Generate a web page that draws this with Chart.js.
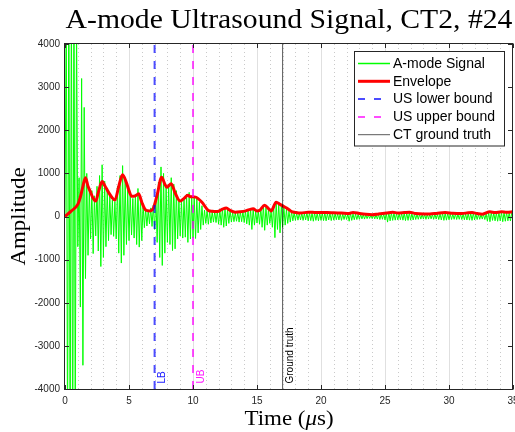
<!DOCTYPE html>
<html>
<head>
<meta charset="utf-8">
<script src="https://cdn.jsdelivr.net/npm/chart.js@4.4.1/dist/chart.umd.min.js"></script>
<style>
  html, body { margin: 0; padding: 0; background: #fff; overflow: hidden; }
  #wrap { width: 515px; height: 432px; }
</style>
</head>
<body>
<div id="wrap"><canvas id="c" width="515" height="432"></canvas></div>
<script>
// ---- data ------------------------------------------------------------
const chartTitle = 'A-mode Ultrasound Signal, CT2, #24';
const timeTicks = [0, 5, 10, 15, 20, 25, 30, 35];
const ampTicks = [-4000, -3000, -2000, -1000, 0, 1000, 2000, 3000, 4000];

// raw RF samples, one every 0.1 µs starting at t = 0
const sampleStep = 0.1;
const signalAmp = [
  0, 5200, -5600, 6100, -5900, 5400, -6200, 5800, -5000, 4600,
  -700, 900, -2100, 3200, -3450, 2530, -1440, 1000, -900, 650,
  -520, 600, -860, 480, -450, 700, -800, 950, -1160, 1200,
  -950, 820, -700, 650, -560, 500, -420, 380, -460, 350,
  -520, 700, -850, 950, -1080, 1180, -900, 850, -650, 620,
  -560, 480, -430, 420, -500, 520, -650, 650, -710, 400,
  -560, 300, -260, 180, -220, 150, -170, 200, -230, 260,
  -300, 450, -600, 800, -950, 1150, -1135, 1000, -850, 700,
  -600, 750, -650, 900, -790, 750, -750, 600, -520, 400,
  -450, 380, -500, 430, -480, 520, -600, 560, -520, 480,
  -500, 470, -510, 420, -380, 330, -300, 250, -200, 150,
  -160, 140, -180, 120, -150, 110, -130, 120, -140, 130,
  -180, 160, -200, 190, -250, 200, -220, 170, -160, 140,
  -130, 100, -120, 90, -110, 100, -130, 110, -120, 120,
  -140, 130, -170, 150, -200, 170, -300, 180, -200, 130,
  -150, 130, -180, 200, -250, 260, -320, 220, -200, 180,
  -160, 140, -250, 280, -490, 330, -300, 300, -380, 260,
  -250, 220, -200, 170, -160, 130, -130, 110, -100, 90,
  -90, 80, -85, 70, -80, 75, -90, 70, -80, 90,
  -100, 90, -95, 80, -110, 85, -90, 75, -100, 80,
  -90, 80, -95, 85, -100, 70, -80, 75, -95, 70,
  -85, 70, -75, 65, -80, 70, -90, 60, -70, 55,
  -70, 60, -110, 85, -90, 60, -75, 55, -70, 50,
  -65, 50, -55, 45, -60, 40, -50, 35, -45, 30,
  -50, 35, -55, 40, -60, 50, -70, 55, -65, 60,
  -80, 70, -130, 90, -100, 85, -90, 80, -85, 70,
  -80, 65, -75, 70, -85, 80, -95, 85, -90, 90,
  -85, 70, -80, 60, -70, 55, -65, 50, -60, 50,
  -60, 50, -65, 55, -60, 50, -55, 50, -65, 55,
  -60, 55, -70, 60, -80, 70, -90, 80, -85, 70,
  -75, 60, -70, 55, -65, 60, -70, 55, -65, 60,
  -70, 55, -75, 60, -80, 70, -85, 75, -90, 80,
  -80, 60, -70, 50, -65, 45, -60, 50, -70, 60,
  -110, 90, -120, 100, -90, 80, -100, 85, -110, 95,
  -100, 90, -120, 100, -110, 95, -100, 90, -105, 100,
  -90
];

// signal envelope (µs, amplitude)
const envTime = [
  0, 0.5, 1.0, 1.2, 1.4, 1.6, 1.8, 2.0, 2.2, 2.4,
  2.6, 2.9, 3.1, 3.4, 3.7, 3.9, 4.2, 4.5, 4.8, 5.0,
  5.2, 5.5, 5.75, 6.0, 6.3, 6.6, 6.9, 7.2, 7.55, 7.8,
  7.95, 8.3, 8.6, 9.0, 9.3, 9.6, 9.8, 10.2, 10.7, 11.2,
  11.5, 11.9, 12.3, 12.6, 12.9, 13.3, 13.7, 14.1, 14.4, 14.7,
  15.0, 15.2, 15.6, 15.9, 16.1, 16.5, 16.8, 17.1, 17.4, 17.7,
  18.0, 18.4, 19.0, 19.5, 20.0, 20.5, 21.0, 21.6, 22.2, 22.5,
  23.0, 23.5, 24.0, 24.5, 25.1, 25.6, 26.0, 26.5, 26.9, 27.4,
  28.0, 28.5, 29.0, 29.7, 30.3, 31.0, 31.5, 31.8, 32.2, 32.6,
  33.2, 33.6, 34.1, 34.5, 35.0
];
const envAmp = [
  0, 130, 280, 450, 700, 900, 700, 560, 420, 360,
  560, 810, 720, 560, 430, 380, 700, 970, 780, 600,
  470, 480, 530, 330, 150, 130, 190, 500, 910, 750,
  680, 760, 550, 360, 420, 490, 460, 450, 330, 140,
  120, 115, 170, 195, 140, 100, 110, 130, 160, 180,
  130, 140, 260, 180, 130, 330, 280, 230, 180, 115,
  95, 80, 100, 95, 90, 95, 85, 80, 70, 95,
  70, 50, 40, 60, 80, 100, 80, 90, 100, 70,
  60, 60, 70, 90, 75, 70, 85, 90, 70, 55,
  110, 90, 110, 100, 110
];

// depth markers (µs)
const lowerBound = 7.0;
const upperBound = 10.0;
const ctGroundTruth = 17.0;
const markerTags = ['LB', 'UB', 'Ground truth'];
const ampRange = [-4000, 4000];
const timeRange = [0, 35];

// ---- datasets ----------------------------------------------------------
const signalPts = signalAmp.map((a, i) => ({ x: Math.round(i * sampleStep * 10) / 10, y: a }));
const envPts = envTime.map((t, i) => ({ x: t, y: envAmp[i] }));
const vline = t => [{ x: t, y: ampRange[0] }, { x: t, y: ampRange[1] }];

const AXIS = '#262626';
const sans = '"Liberation Sans", Arial, sans-serif';
const serif = '"Liberation Serif", "Times New Roman", serif';

const styles = [
  { label: 'A-mode Signal', color: '#00ff00', width: 1, dash: [] },
  { label: 'Envelope', color: '#ff0000', width: 3, dash: [] },
  { label: 'US lower bound', color: 'rgba(0,0,255,0.7)', width: 2, dash: [8, 8] },
  { label: 'US upper bound', color: 'rgba(255,0,255,0.7)', width: 2, dash: [8, 8] },
  { label: 'CT ground truth', color: 'rgba(0,0,0,0.65)', width: 1, dash: [] }
];
const seriesData = [signalPts, envPts, vline(lowerBound), vline(upperBound), vline(ctGroundTruth)];

const datasets = styles.map((s, i) => ({
  label: s.label,
  data: seriesData[i],
  borderColor: s.color,
  borderWidth: s.width,
  borderDash: s.dash,
  pointRadius: 0,
  fill: false,
  order: 5 - i,
  cubicInterpolationMode: i === 1 ? 'monotone' : 'default'
}));

// ---- drawing helpers ---------------------------------------------------
// serif text, slightly widened to the proportions of Computer Modern
function serifText(ctx, text, x, y, size, rot) {
  ctx.save();
  ctx.translate(x, y);
  if (rot) ctx.rotate(rot);
  ctx.scale(1.12, 1);
  ctx.font = size + 'px ' + serif;
  ctx.textAlign = 'center';
  ctx.textBaseline = 'alphabetic';
  ctx.fillStyle = '#000';
  ctx.fillText(text, 0, 0);
  ctx.restore();
}

const decor = {
  id: 'decor',
  beforeDatasetsDraw(chart) {
    const { ctx, chartArea: a, scales: { x } } = chart;
    ctx.save();
    ctx.lineWidth = 1;
    for (let t = timeRange[0] + 1; t < timeRange[1]; t++) {
      const X = Math.round(x.getPixelForValue(t)) + 0.5;
      ctx.beginPath();
      if (t % 5 === 0) {
        ctx.setLineDash([]);
        ctx.strokeStyle = '#e0e0e0';
      } else {
        ctx.setLineDash([1, 3]);
        ctx.strokeStyle = '#c9c9c9';
      }
      ctx.moveTo(X, a.top);
      ctx.lineTo(X, a.bottom);
      ctx.stroke();
    }
    ctx.restore();
  },
  afterDatasetsDraw(chart) {
    const { ctx, chartArea: a, scales: { x, y } } = chart;
    ctx.save();
    // box
    const L = a.left - 0.5, R = a.right - 0.5, T = a.top - 0.5, B = a.bottom + 0.5;
    ctx.strokeStyle = AXIS;
    ctx.lineWidth = 1;
    ctx.setLineDash([]);
    ctx.strokeRect(L, T, R - L, B - T);
    // inward tick marks on all four sides
    const tl = 4.5;
    ctx.beginPath();
    timeTicks.forEach(v => {
      const X = Math.round(x.getPixelForValue(v)) + 0.5;
      ctx.moveTo(X, B); ctx.lineTo(X, B - tl);
      ctx.moveTo(X, T); ctx.lineTo(X, T + tl);
    });
    ampTicks.forEach(v => {
      const Y = Math.round(y.getPixelForValue(v)) + 0.5;
      ctx.moveTo(L, Y); ctx.lineTo(L + tl, Y);
      ctx.moveTo(R, Y); ctx.lineTo(R - tl, Y);
    });
    ctx.stroke();

    // marker tags, rotated, next to each vertical line
    const tags = [
      { t: lowerBound, text: markerTags[0], color: '#1a1aff' },
      { t: upperBound, text: markerTags[1], color: '#ff1aff' },
      { t: ctGroundTruth, text: markerTags[2], color: '#000' }
    ];
    ctx.font = '10px ' + sans;
    ctx.textAlign = 'left';
    ctx.textBaseline = 'middle';
    tags.forEach(g => {
      const X = x.getPixelForValue(g.t);
      ctx.save();
      ctx.translate(X + 8, a.bottom - 5.5);
      ctx.rotate(-Math.PI / 2);
      ctx.fillStyle = g.color;
      ctx.fillText(g.text, 0, 0);
      ctx.restore();
    });
    ctx.restore();
  },
  afterDraw(chart) {
    const { ctx, chartArea: a } = chart;
    const cx = (a.left + a.right) / 2;
    // title
    serifText(ctx, chartTitle, cx, 27.5, 26.5);
    // y label
    serifText(ctx, 'Amplitude', 25, (a.top + a.bottom) / 2, 20.5, -Math.PI / 2);
    // x label with italic mu
    ctx.save();
    const sz = 20.5;
    const parts = [
      { s: 'Time (', f: sz + 'px ' + serif },
      { s: '\u03bc', f: 'italic ' + sz + 'px ' + serif },
      { s: 's)', f: sz + 'px ' + serif }
    ];
    let w = 0;
    parts.forEach(p => { ctx.font = p.f; p.w = ctx.measureText(p.s).width; w += p.w; });
    ctx.translate(cx, 425);
    ctx.scale(1.12, 1);
    let pos = -w / 2;
    ctx.fillStyle = '#000';
    ctx.textBaseline = 'alphabetic';
    ctx.textAlign = 'left';
    parts.forEach(p => { ctx.font = p.f; ctx.fillText(p.s, pos, 0); pos += p.w; });
    ctx.restore();

    // legend
    ctx.save();
    const bx = 354.5, by = 51.5, bw = 150, bh = 94.5;
    ctx.fillStyle = '#fff';
    ctx.fillRect(bx, by, bw, bh);
    ctx.strokeStyle = AXIS;
    ctx.lineWidth = 1;
    ctx.setLineDash([]);
    ctx.strokeRect(bx, by, bw, bh);
    ctx.font = '14px ' + sans;
    ctx.textBaseline = 'middle';
    ctx.textAlign = 'left';
    styles.forEach((s, i) => {
      const ry = 63.5 + i * 17.8;
      ctx.beginPath();
      ctx.strokeStyle = s.color;
      ctx.lineWidth = i === 0 ? 1.5 : s.width;
      ctx.setLineDash(s.dash.length ? [7, 9] : []);
      ctx.moveTo(358, ry);
      ctx.lineTo(390, ry);
      ctx.stroke();
      ctx.fillStyle = '#000';
      ctx.fillText(s.label, 393, ry + 0.5);
    });
    ctx.restore();
  }
};

const zeroPad = s => { s.paddingLeft = 0; s.paddingRight = 0; s.paddingTop = 0; s.paddingBottom = 0; };

new Chart(document.getElementById('c'), {
  type: 'line',
  data: { datasets },
  options: {
    responsive: false,
    animation: false,
    devicePixelRatio: 1,
    normalized: true,
    layout: { padding: { top: 44, right: 2, left: 0, bottom: 0 } },
    plugins: { legend: { display: false }, tooltip: { enabled: false }, title: { display: false } },
    scales: {
      x: {
        type: 'linear', min: timeRange[0], max: timeRange[1],
        grid: { display: false, drawTicks: false }, border: { display: false },
        afterBuildTicks: s => { s.ticks = timeTicks.map(v => ({ value: v })); },
        afterFit: s => { s.height = 43; zeroPad(s); },
        ticks: { autoSkip: false, maxRotation: 0, padding: 6, color: AXIS,
                 font: { family: sans, size: 10 }, callback: v => String(v) }
      },
      y: {
        type: 'linear', min: ampRange[0], max: ampRange[1],
        grid: { display: false, drawTicks: false }, border: { display: false },
        afterBuildTicks: s => { s.ticks = ampTicks.map(v => ({ value: v })); },
        afterFit: s => { s.width = 65; zeroPad(s); },
        ticks: { autoSkip: false, padding: 5, color: AXIS,
                 font: { family: sans, size: 10 }, callback: v => String(v) }
      }
    }
  },
  plugins: [decor]
});
</script>
</body>
</html>
